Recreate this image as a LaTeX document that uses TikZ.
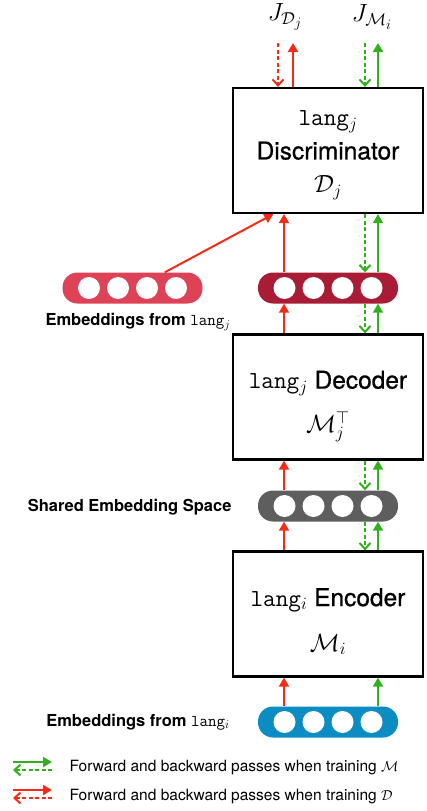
\documentclass[tikz,border=0pt]{standalone}
\usepackage{fontspec}
\setsansfont{TeX Gyre Heros}
\newfontfamily\medsans{TeX Gyre Heros}[FakeBold=0.8]
\usetikzlibrary{arrows.meta}
\definecolor{fwdred}{HTML}{F42C17}
\definecolor{fwdgreen}{HTML}{2EB11A}
\definecolor{embred}{HTML}{DE4257}
\definecolor{embdark}{HTML}{A91C35}
\definecolor{embgrey}{HTML}{5E5E5E}
\definecolor{embblue}{HTML}{0B8DC4}
\tikzset{
    block/.style={draw, line width=2.2pt, minimum width=190pt, minimum height=125pt},
    boxtext/.style={align=center, font=\medsans\fontsize{24.5}{28}\selectfont},
    embbar/.style={rounded corners=15pt, minimum width=140pt, minimum height=31pt, inner sep=0pt},
    unit/.style={circle, fill=white, minimum size=22pt, inner sep=0pt},
    fwd/.style={line width=2pt, -{Triangle[length=9pt,width=10pt]}},
    bwd/.style={line width=2pt, dash pattern=on 4pt off 2.5pt, -{Straight Barb[length=6pt,width=11pt]}},
    tag/.style={font=\sffamily\bfseries\fontsize{16.5}{19}\selectfont},
    legtext/.style={font=\sffamily\fontsize{15.5}{18}\selectfont, anchor=west},
    cost/.style={font=\fontsize{27}{30}\selectfont},
}
\begin{document}
\begin{tikzpicture}[x=1pt, y=-1pt]
            \useasboundingbox (0,0) rectangle (426,811);

            \node[block] (disc) at (328,150.5) {};
            \node[block] (dec) at (328,397) {};
            \node[block] (enc) at (328,614) {};
            \node[boxtext] (disctxt) at (328,155) {\texttt{lang}$_j$\\[6pt] Discriminator\\[5pt] $\mathcal{D}_j$};
            \node[boxtext] (dectxt) at (328,406.5) {\texttt{lang}$_j$ Decoder\\[15pt] $\mathcal{M}_j^\top$};
            \node[boxtext] (enctxt) at (328,621.5) {\texttt{lang}$_i$ Encoder\\[17pt] $\mathcal{M}_i$};

            \node[embbar, fill=embred] (embx) at (132.5,288) {};
            \node[embbar, fill=embdark] (embj) at (328,288) {};
            \node[embbar, fill=embgrey] (shared) at (328,506) {};
            \node[embbar, fill=embblue] (embi) at (328,722) {};
            \foreach \bar in {embx, embj, shared, embi}
                \foreach \k/\dx in {1/-43.5, 2/-14.5, 3/14.5, 4/43.5}
                    \node[unit] (\bar-\k) at ([xshift=\dx pt]\bar.center) {};

            \node[tag] (tagj) at (138,322) {Embeddings from \texttt{\mdseries lang}$_j$};
            \node[tag, anchor=east] (tagshared) at (235,507) {Shared Embedding Space};
            \node[tag] (tagi) at (138,722) {Embeddings from \texttt{\mdseries lang}$_i$};

            \node[cost] (jd) at (285,17) {$J_{\mathcal{D}_j}$};
            \node[cost] (jm) at (372,17) {$J_{\mathcal{M}_i}$};

            \coordinate (toprow) at (0,43);
            \coordinate (rcol) at (284,0);
            \coordinate (rbw) at (278,0);
            \coordinate (rfw) at (293,0);
            \coordinate (gbw) at (365,0);
            \coordinate (gfw) at (378,0);

            \draw[bwd, fwdred] (rbw |- toprow) -- (rbw |- disc.north);
            \draw[fwd, fwdred] (rfw |- disc.north) -- (rfw |- toprow);
            \draw[bwd, fwdgreen] (gbw |- toprow) -- (gbw |- disc.north);
            \draw[fwd, fwdgreen] (gfw |- disc.north) -- (gfw |- toprow);

            \draw[fwd, fwdred] (embx-4.west |- embx.north) -- (embj-1.west |- disc.south);
            \draw[fwd, fwdred] (rcol |- embj.north) -- (rcol |- disc.south);
            \draw[bwd, fwdgreen] (gbw |- disc.south) -- (gbw |- embj.north);
            \draw[fwd, fwdgreen] (gfw |- embj.north) -- (gfw |- disc.south);

            \draw[fwd, fwdred] (rcol |- dec.north) -- (rcol |- embj.south);
            \draw[bwd, fwdgreen] (gbw |- embj.south) -- (gbw |- dec.north);
            \draw[fwd, fwdgreen] (gfw |- dec.north) -- (gfw |- embj.south);

            \draw[fwd, fwdred] (rcol |- shared.north) -- (rcol |- dec.south);
            \draw[bwd, fwdgreen] (gbw |- dec.south) -- (gbw |- shared.north);
            \draw[fwd, fwdgreen] (gfw |- shared.north) -- (gfw |- dec.south);

            \draw[fwd, fwdred] (rcol |- enc.north) -- (rcol |- shared.south);
            \draw[bwd, fwdgreen] (gbw |- shared.south) -- (gbw |- enc.north);
            \draw[fwd, fwdgreen] (gfw |- enc.north) -- (gfw |- shared.south);

            \draw[fwd, fwdred] (rcol |- embi.north) -- (rcol |- enc.south);
            \draw[fwd, fwdgreen] (gfw |- embi.north) -- (gfw |- enc.south);

            \node[legtext] (legm) at (66,768) {Forward and backward passes when training $\mathcal{M}$};
            \node[legtext] (legd) at (66,797) {Forward and backward passes when training $\mathcal{D}$};
            \coordinate (glft) at (13,762);
            \coordinate (grgt) at (52,762);
            \coordinate (rlft) at (13,790);
            \coordinate (rrgt) at (52,790);
            \draw[fwd, fwdgreen] (glft) -- (grgt);
            \draw[bwd, fwdgreen] ([yshift=-8pt]grgt) -- ([yshift=-8pt]glft);
            \draw[fwd, fwdred] (rlft) -- (rrgt);
            \draw[bwd, fwdred] ([yshift=-8pt]rrgt) -- ([yshift=-8pt]rlft);
\end{tikzpicture}
\end{document}
